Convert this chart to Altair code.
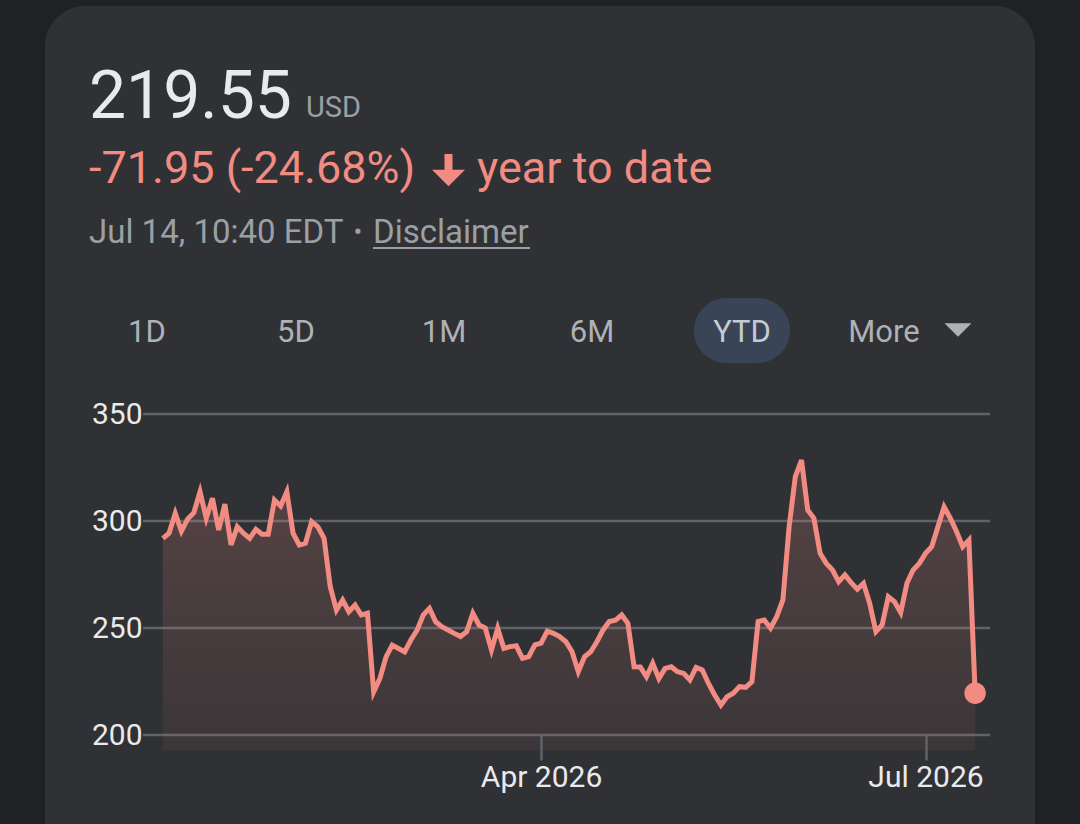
import altair as alt
import pandas as pd

# ---------------- data ----------------
prices = [
    291.9, 294.3, 303.6, 295.3, 301.0, 303.9, 313.7, 301.3, 310.6, 295.8,
    307.9, 288.8, 297.3, 294.3, 291.9, 296.1, 293.8, 293.8, 309.8, 307.0,
    313.7, 294.3, 288.8, 289.6, 299.7, 297.3, 291.9, 269.3, 258.4, 263.1,
    257.6, 260.7, 256.1, 256.9, 220.2, 226.4, 236.5, 242.0, 240.4, 238.9,
    244.4, 249.0, 256.1, 259.2, 252.9, 250.6, 249.1, 247.5, 246.0, 248.3,
    256.9, 251.4, 250.0, 239.8, 249.9, 240.5, 241.3, 241.7, 235.8, 236.6,
    242.1, 242.9, 248.6, 247.5, 246.0, 243.6, 238.9, 229.6, 236.6, 238.9,
    243.6, 249.1, 253.0, 253.7, 256.1, 252.2, 231.9, 231.8, 227.2, 233.5,
    226.4, 231.1, 231.9, 229.6, 228.8, 225.7, 231.6, 230.4, 224.1, 218.7,
    214.0, 217.9, 219.5, 222.6, 222.3, 224.9, 253.0, 253.7, 249.9, 255.3,
    263.1, 297.3, 320.7, 328.5, 305.1, 301.3, 284.9, 280.2, 277.1, 271.6,
    274.8, 271.2, 268.1, 270.9, 261.5, 248.3, 251.4, 264.6, 262.3, 257.2,
    270.9, 277.1, 280.2, 284.9, 288.0, 297.3, 306.6, 301.3, 295.1, 288.0,
    291.1, 219.55,
]
x_tick_index = [61, 123]
x_tick_labels = ["Apr 2026", "Jul 2026"]
y_ticks = [200, 250, 300, 350]
y_domain = [193, 350]
x_domain = [-3.2, 133.4]

price_text = "219.55"
currency_text = "USD"
change_text = "-71.95 (-24.68%)"
period_text = "year to date"
time_text = "Jul 14, 10:40 EDT"
bullet_text = "•"
disclaimer_text = "Disclaimer"
range_labels = ["1D", "5D", "1M", "6M", "YTD", "More"]

# ---------------- layout ----------------
L, T = 143, 414          # plot origin in page pixels
W, H = 847, 336          # plot size
FONT = "Roboto"
RED = "#f28b82"
GRID = "#5f6368"
range_x = [147, 296, 444, 592, 742, 884]
TRI = "M-1,-0.5L1,-0.5L0,0.5Z"

df = pd.DataFrame({"i": list(range(len(prices))), "price": prices})
last = df.tail(1)
one = pd.DataFrame({"k": [0]})
grid_df = pd.DataFrame({"price": y_ticks})

xs = alt.Scale(domain=x_domain, nice=False, zero=False)
ys = alt.Scale(domain=y_domain, nice=False, zero=False)

label_expr = " : ".join(
    f"datum.value == {v} ? '{t}'" for v, t in zip(x_tick_index, x_tick_labels)
) + " : ''"

y_axis = alt.Axis(
    values=y_ticks, grid=False, domain=False, ticks=False,
    labelColor="#e8eaed", labelFontSize=30, labelFont=FONT,
    labelPadding=1, labelFlush=False, zindex=1,
)
x_axis = alt.Axis(
    values=x_tick_index, labelExpr=label_expr, grid=False, domain=False,
    ticks=True, tickColor=GRID, tickWidth=2.5, tickSize=25,
    offset=-15, labelColor="#e8eaed", labelFontSize=30, labelFont=FONT,
    labelBaseline="alphabetic", labelPadding=26, labelFlush=False,
    zindex=1,
)


def px(x):
    return alt.value(x - L)


def py(y):
    return alt.value(y - T)


def text(t, x, y, size, color, align="left", font=FONT, weight="normal"):
    return alt.Chart(one).mark_text(
        text=t, align=align, baseline="alphabetic", fontSize=size,
        color=color, font=font, fontWeight=weight
    ).encode(x=px(x), y=py(y))


card = alt.Chart(one).mark_rect(color="#303134", cornerRadius=40).encode(
    x=px(45), x2=px(1035), y=py(6), y2=py(900)
)
pill = alt.Chart(one).mark_rect(color="#394457", cornerRadius=33).encode(
    x=px(694), x2=px(790), y=py(298), y2=py(363)
)

header = [
    text(price_text, 89, 118, 66, "#e8eaed"),
    text(currency_text, 306, 117, 29, "#9aa0a6"),
    text(change_text, 89, 183, 45, RED),
    text(period_text, 477, 183, 45, RED),
    text(time_text, 89, 243, 33, "#9aa0a6"),
    text(bullet_text, 358, 241, 26, "#9aa0a6", align="center"),
    text(disclaimer_text, 373, 243, 33, "#9aa0a6"),
]
underline = alt.Chart(one).mark_rule(color="#9aa0a6", strokeWidth=2).encode(
    x=px(373), x2=px(530), y=py(248)
)
arrow_shaft = alt.Chart(one).mark_rule(color=RED, strokeWidth=8).encode(
    x=px(448.5), y=py(154), y2=py(175)
)
arrow_head = alt.Chart(one).mark_point(
    shape=TRI, filled=True, color=RED, opacity=1, size=1089, strokeWidth=0
).encode(x=px(448.5), y=py(178))

buttons = []
for lab, bx in zip(range_labels, range_x):
    col = "#c5cad3" if lab == "YTD" else "#aeb1b6"
    buttons.append(text(lab, bx, 342, 31, col, align="center"))
more_tri = alt.Chart(one).mark_point(
    shape=TRI, filled=True, color="#aeb1b6", opacity=1, size=729, strokeWidth=0
).encode(x=px(958), y=py(330))

grid = alt.Chart(grid_df).mark_rule(color=GRID, strokeWidth=2.5).encode(
    y=alt.Y("price:Q", scale=ys, axis=y_axis, title=None),
    x=alt.value(0), x2=alt.value(W),
)

area = alt.Chart(df).mark_area(
    color=alt.Gradient(
        gradient="linear",
        stops=[
            alt.GradientStop(color="rgba(242,139,130,0.20)", offset=0),
            alt.GradientStop(color="rgba(242,139,130,0.06)", offset=1),
        ],
        x1=1, x2=1, y1=0, y2=1,
    )
).encode(
    x=alt.X("i:Q", scale=xs, title=None, axis=x_axis),
    y=alt.Y("price:Q", scale=ys, title=None, axis=y_axis),
    y2=alt.datum(y_domain[0]),
)
line = alt.Chart(df).mark_line(color=RED, strokeWidth=5).encode(
    x=alt.X("i:Q", scale=xs, axis=x_axis, title=None),
    y=alt.Y("price:Q", scale=ys, axis=y_axis, title=None),
)
dot = alt.Chart(last).mark_circle(color=RED, opacity=1, size=460).encode(
    x=alt.X("i:Q", scale=xs, axis=x_axis, title=None),
    y=alt.Y("price:Q", scale=ys, axis=y_axis, title=None),
)

chart = alt.layer(
    card, pill, *header, underline, arrow_shaft, arrow_head, *buttons, more_tri,
    grid, area, line, dot
).properties(
    width=W, height=H,
    autosize=alt.AutoSizeParams(type="none"),
    padding={"left": L, "top": T, "right": 1080 - L - W, "bottom": 824 - T - H},
    background="#202124",
).configure_view(stroke=None)

chart.save("out.html", embed_options={"renderer": "svg", "actions": False})
